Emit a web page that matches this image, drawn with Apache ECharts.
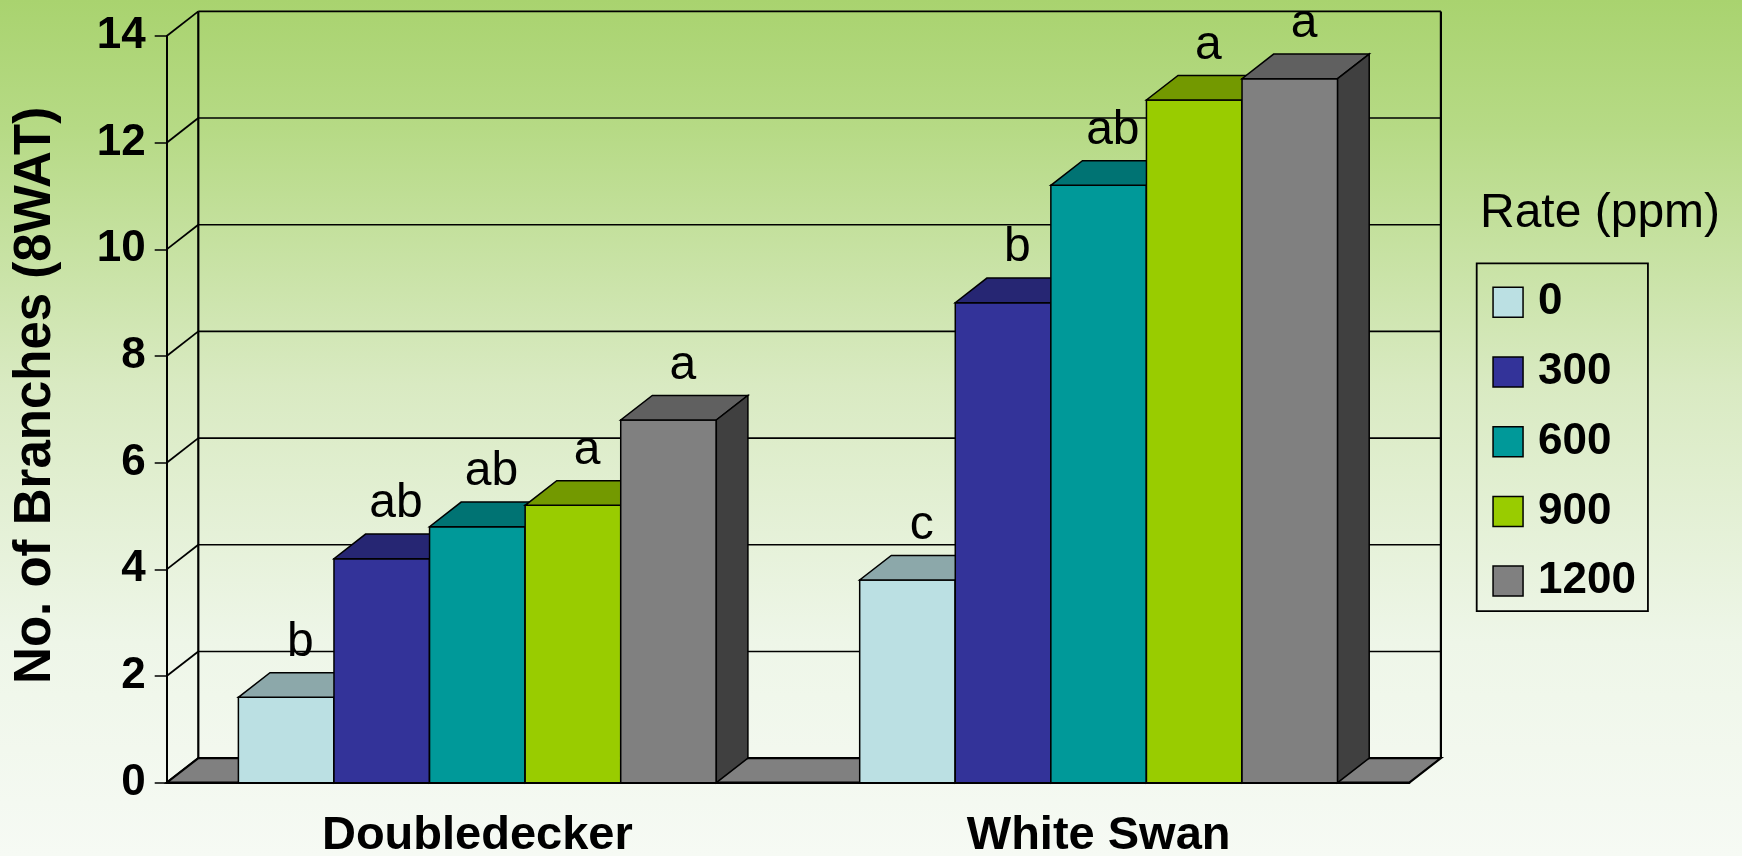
<!DOCTYPE html>
<html><head><meta charset="utf-8">
<script src="https://cdn.jsdelivr.net/npm/echarts@6/dist/echarts.min.js"></script>
<style>html,body{margin:0;padding:0;background:#fff;}#c{width:1742px;height:856px;}</style>
</head><body><div id="c"></div>
<script>
// ---- data ----
const categories = ['Doubledecker', 'White Swan'];
const rates = ['0', '300', '600', '900', '1200'];
const rate0 = [1.6, 3.8];
const rate300 = [4.2, 9.0];
const rate600 = [4.8, 11.2];
const rate900 = [5.2, 12.8];
const rate1200 = [6.8, 13.2];
const letters0 = ['b', 'c'];
const letters300 = ['ab', 'b'];
const letters600 = ['ab', 'ab'];
const letters900 = ['a', 'a'];
const letters1200 = ['a', 'a'];
const yTicks = [0, 2, 4, 6, 8, 10, 12, 14];

const seriesValues = [rate0, rate300, rate600, rate900, rate1200];
const seriesLetters = [letters0, letters300, letters600, letters900, letters1200];
const colors = ['#BBE0E3', '#333399', '#009999', '#99CC00', '#808080'];

// ---- styling ----
const FONT = '"Liberation Sans", Arial, sans-serif';
const DX = 31.6, DY = -24.6;      // 3D depth offset
const NBARS = rates.length, GAP = 1.5;

function shade(hex, f) {
  const n = parseInt(hex.slice(1), 16);
  const r = Math.round(((n >> 16) & 255) * f), g = Math.round(((n >> 8) & 255) * f), b = Math.round((n & 255) * f);
  return 'rgb(' + r + ',' + g + ',' + b + ')';
}

const chart = echarts.init(document.getElementById('c'), null, {renderer: 'canvas'});

const wallSeries = {
  type: 'custom', name: 'wall', z: 1, silent: true, clip: false,
  data: yTicks.map(v => [0, v]),
  renderItem: function (params, api) {
    const cs = params.coordSys;
    const y = api.coord([0, api.value(1)])[1];
    const x0 = cs.x, x1 = cs.x + cs.width;
    const children = [
      {type: 'line', shape: {x1: x0, y1: y, x2: x0 + DX, y2: y + DY}, style: {stroke: '#000', lineWidth: 1.8}}
    ];
    if (api.value(1) > 0) {
      children.push({type: 'line', shape: {x1: x0 + DX, y1: y + DY, x2: x1 + DX, y2: y + DY}, style: {stroke: '#000', lineWidth: 1.6}});
    }
    if (params.dataIndex === 0) {
      const yTop = cs.y + DY;
      children.push({type: 'line', shape: {x1: x0 + DX, y1: y + DY, x2: x0 + DX, y2: yTop}, style: {stroke: '#000', lineWidth: 2.2}});
      children.push({type: 'line', shape: {x1: x1 + DX, y1: y + DY, x2: x1 + DX, y2: yTop}, style: {stroke: '#000', lineWidth: 2.2}});
    }
    return {type: 'group', children: children};
  }
};

const floorSeries = {
  type: 'custom', name: 'floor', z: 2, silent: true, clip: false,
  data: [[0, 0]],
  renderItem: function (params, api) {
    const cs = params.coordSys;
    const y = api.coord([0, 0])[1];
    const x0 = cs.x, x1 = cs.x + cs.width;
    return {
      type: 'polygon',
      shape: {points: [[x0, y], [x1, y], [x1 + DX, y + DY], [x0 + DX, y + DY]]},
      style: {fill: '#808080', stroke: '#000', lineWidth: 2.2}
    };
  }
};

const barSeries = rates.map((name, i) => ({
  type: 'custom', name: name, z: 3, clip: false,
  itemStyle: {color: colors[i], borderColor: '#000', borderWidth: 1.5},
  data: seriesValues[i].map((v, c) => [c, v]),
  renderItem: function (params, api) {
    const catW = api.size([1, 0])[0];
    const barW = catW / (NBARS + GAP);
    const base = api.coord([api.value(0), 0]);
    const top = api.coord([api.value(0), api.value(1)]);
    const x = base[0] - (NBARS / 2) * barW + i * barW;
    const by = base[1], ty = top[1];
    const st = {stroke: '#000', lineWidth: 1.5, lineJoin: 'miter'};
    const letter = seriesLetters[i][params.dataIndex];
    return {
      type: 'group',
      children: [
        {type: 'rect', shape: {x: x, y: ty, width: barW, height: by - ty}, style: Object.assign({fill: colors[i]}, st)},
        {type: 'polygon', shape: {points: [[x, ty], [x + barW, ty], [x + barW + DX, ty + DY], [x + DX, ty + DY]]}, style: Object.assign({fill: shade(colors[i], 0.75)}, st)},
        {type: 'polygon', shape: {points: [[x + barW, ty], [x + barW + DX, ty + DY], [x + barW + DX, by + DY], [x + barW, by]]}, style: Object.assign({fill: shade(colors[i], 0.5)}, st)},
        {type: 'text', z2: 10, style: {text: letter, x: x + barW / 2 + DX * 0.45, y: ty + DY - 6, align: 'center', verticalAlign: 'bottom', fill: '#000', font: '48px ' + FONT}}
      ]
    };
  }
}));

const option = {
  animation: false,
  backgroundColor: {
    type: 'linear', x: 0, y: 0, x2: 0, y2: 1,
    colorStops: [
      {offset: 0, color: '#A9D36F'},
      {offset: 0.15, color: '#B6DA85'},
      {offset: 0.45, color: '#D9EAC2'},
      {offset: 0.75, color: '#EEF6E8'},
      {offset: 1, color: '#F6FAF4'}
    ]
  },
  title: {
    text: 'Rate (ppm)', left: 1480, top: 190, padding: 0,
    textStyle: {fontFamily: FONT, fontSize: 48, fontWeight: 'normal', color: '#000'}
  },
  legend: {
    data: rates, orient: 'vertical', left: 1476.7, top: 263.3,
    padding: [17, 12, 8, 15.6],
    borderColor: '#000', borderWidth: 1.8,
    itemWidth: 30, itemHeight: 30, itemGap: 25.7,
    icon: 'rect',
    itemStyle: {borderColor: '#000', borderWidth: 1.5},
    textStyle: {fontFamily: FONT, fontSize: 44, fontWeight: 'bold', color: '#000', lineHeight: 44, padding: [0, 0, 0, 10]}
  },
  grid: {left: 166.7, right: 332.7, top: 36, bottom: 73.3, containLabel: false, outerBoundsMode: 'none'},
  xAxis: {
    type: 'category', data: categories, boundaryGap: true,
    axisLine: {lineStyle: {color: '#000', width: 2}},
    axisTick: {length: 13, lineStyle: {color: '#000', width: 1.5}},
    axisLabel: {margin: 30, fontFamily: FONT, fontSize: 47, fontWeight: 'bold', color: '#000'},
    splitLine: {show: false}
  },
  yAxis: {
    type: 'value', min: 0, max: 14, interval: 2,
    name: 'No. of Branches (8WAT)', nameLocation: 'middle', nameRotate: 90, nameGap: 105,
    nameTextStyle: {fontFamily: FONT, fontSize: 51, fontWeight: 'bold', color: '#000', padding: [0, 0, 0, 28]},
    axisLine: {show: true, lineStyle: {color: '#000', width: 2}},
    axisTick: {show: true, length: 12, lineStyle: {color: '#000', width: 1.5}},
    axisLabel: {margin: 21, fontFamily: FONT, fontSize: 44, fontWeight: 'bold', color: '#000'},
    splitLine: {show: false}
  },
  series: [wallSeries, floorSeries].concat(barSeries)
};
chart.setOption(option);
</script>
</body></html>
